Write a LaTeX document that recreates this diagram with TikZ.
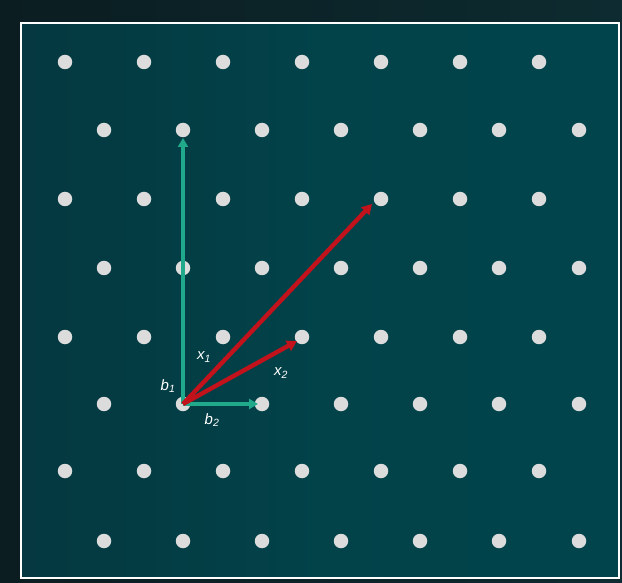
\documentclass[tikz,border=0pt]{standalone}
\usepackage{fontspec}
\setmainfont{Liberation Sans}
\usetikzlibrary{arrows.meta}
\definecolor{outL}{HTML}{0A1619}
\definecolor{outR}{HTML}{0E3238}
\definecolor{inA}{HTML}{072A30}
\definecolor{inB}{HTML}{053840}
\definecolor{inC}{HTML}{024249}
\definecolor{inD}{HTML}{00474F}
\definecolor{dotc}{HTML}{DCDCDC}
\definecolor{basisc}{HTML}{20A98B}
\definecolor{vecc}{HTML}{C2121C}
\pgfdeclarehorizontalshading{outsh}{100bp}{color(0bp)=(outL); color(100bp)=(outR)}
\pgfdeclarehorizontalshading{insh}{100bp}{color(0bp)=(inA); color(25bp)=(inB); color(50bp)=(inC); color(100bp)=(inD)}
\tikzset{
  dotnode/.style={circle,fill=dotc,minimum size=14.5pt,inner sep=0pt},
  basisarrow/.style={draw=basisc,line width=3.6pt,-{Triangle[length=9pt,width=10pt]}},
  vecarrow/.style={draw=vecc,line width=4.4pt,-{Triangle[length=10pt,width=11pt]}},
  lab/.style={text=white,font=\fontsize{15}{17}\selectfont\itshape,inner sep=1pt}
}
\begin{document}
\begin{tikzpicture}[x=1pt,y=-1pt]
\useasboundingbox (0,0) rectangle (622,583);
\shade[shading=outsh] (0,0) rectangle (622,583);
\shade[shading=insh] (21,23) rectangle (619,578);
\draw[white,line width=2.4pt] (21,23) rectangle (619,578);
% lattice points
\foreach \r/\y in {0/62,2/199,4/337,6/471}{
  \foreach \c/\x in {0/65,1/144,2/223,3/302,4/381,5/460,6/539}{
    \node[dotnode] (p\r-\c) at (\x,\y) {};
  }
}
\foreach \r/\y in {1/130,3/268,5/404,7/541}{
  \foreach \c/\x in {0/104,1/183,2/262,3/341,4/420,5/499,6/579}{
    \node[dotnode] (p\r-\c) at (\x,\y) {};
  }
}
\coordinate (o) at (p5-1.center);
\coordinate (b1end) at (183,138);
\coordinate (b2end) at (258,404);
\coordinate (x1end) at (372,204);
\coordinate (x2end) at (297,341);
\draw[basisarrow] (o) -- (b1end);
\draw[basisarrow] (o) -- (b2end);
\draw[vecarrow] (o) -- (x1end);
\draw[vecarrow] (o) -- (x2end);
\node[lab] (lb1) at (168,386) {b\textsubscript{1}};
\node[lab] (lb2) at (212,420) {b\textsubscript{2}};
\node[lab] (lx1) at (204,357) {x\textsubscript{1}};
\node[lab] (lx2) at (281,373) {x\textsubscript{2}};
\end{tikzpicture}
\end{document}
